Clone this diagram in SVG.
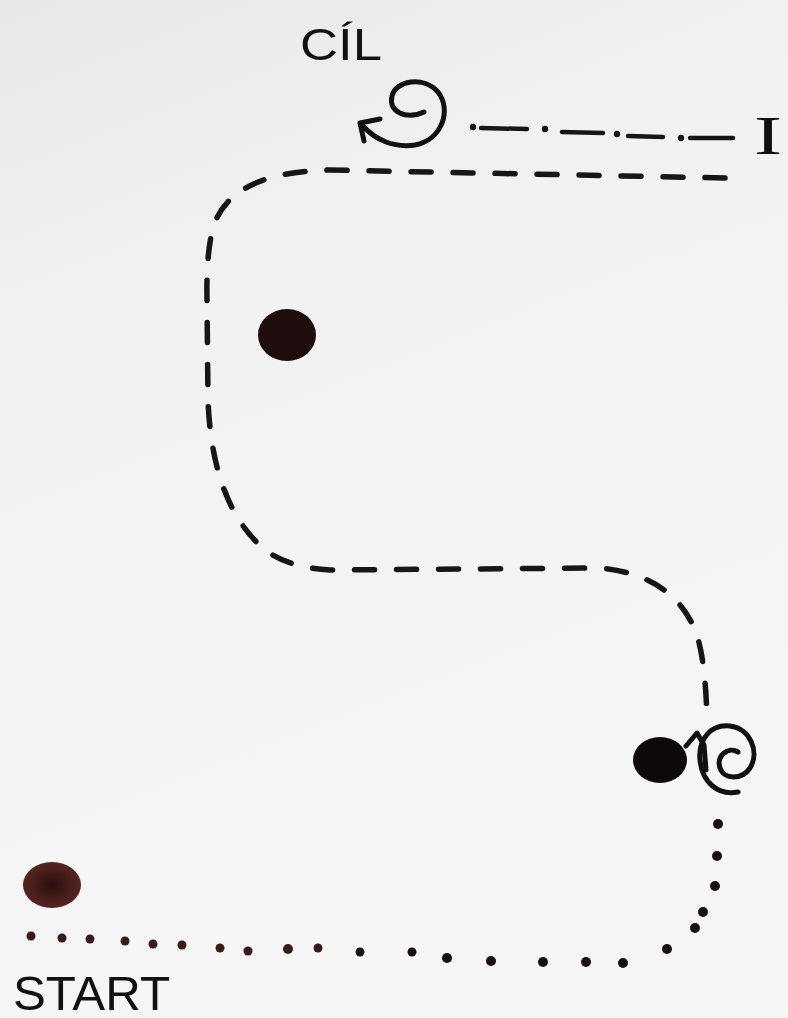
<svg xmlns="http://www.w3.org/2000/svg" width="788" height="1018" viewBox="0 0 788 1018">
<defs>
<linearGradient id="bg" x1="0" y1="0" x2="0.3" y2="1">
<stop offset="0" stop-color="#e8e8e8"/>
<stop offset="0.35" stop-color="#f2f2f2"/>
<stop offset="1" stop-color="#f6f6f6"/>
</linearGradient>
<radialGradient id="brown" cx="0.5" cy="0.5" r="0.6">
<stop offset="0" stop-color="#2a0e0e"/>
<stop offset="0.6" stop-color="#4a1f1c"/>
<stop offset="1" stop-color="#5a2a26"/>
</radialGradient>
<style>
.ink{fill:none;stroke:#111;stroke-width:5;stroke-linecap:round;stroke-linejoin:round}
.dash{fill:none;stroke:#161616;stroke-width:5.5;stroke-linecap:round;stroke-dasharray:20 22}
.dashdot{fill:none;stroke:#161616;stroke-width:4.5;stroke-linecap:round}
.dot{fill:#1a1010}
.bdot{fill:#3a1a18}
.hand{font-family:"Liberation Sans","DejaVu Sans",sans-serif;fill:#111}
</style>
</defs>
<rect width="788" height="1018" fill="url(#bg)"/>

<g id="connectors">
<path id="dashed-route" class="dash" d="M 725 178 L 330 170 Q 232 172 214 225 Q 206 250 207 300 L 208 400 Q 212 505 265 550 Q 290 568 330 570 L 600 568 Q 675 575 697 635 Q 706 665 707 722"/>
<g id="dashdot-line">
<path class="dashdot" d="M 481 128 L 527 129 M 562 132 L 603 133 M 628 136 L 663 137 M 690 138 L 733 138"/>
<circle cx="473" cy="127" r="3.2" fill="#161616"/>
<circle cx="545" cy="129" r="3.2" fill="#161616"/>
<circle cx="617" cy="134" r="3.2" fill="#161616"/>
<circle cx="681" cy="138" r="3.2" fill="#161616"/>
</g>
<g id="dotted-route">
<circle class="dot" cx="718" cy="824" r="5"/>
<circle class="dot" cx="717" cy="856" r="5"/>
<circle class="dot" cx="715" cy="886" r="5"/>
<circle class="dot" cx="703" cy="912" r="5"/>
<circle class="dot" cx="695" cy="928" r="5"/>
<circle class="dot" cx="667" cy="949" r="5"/>
<circle class="dot" cx="623" cy="963" r="5"/>
<circle class="dot" cx="586" cy="962" r="5"/>
<circle class="dot" cx="543" cy="962" r="5"/>
<circle class="dot" cx="491" cy="961" r="5"/>
<circle class="dot" cx="447" cy="958" r="5"/>
<circle class="dot" cx="412" cy="952" r="4.5"/>
<circle class="dot" cx="360" cy="952" r="4.5"/>
<circle class="bdot" cx="318" cy="948" r="4.5"/>
<circle class="bdot" cx="288" cy="949" r="5"/>
<circle class="bdot" cx="248" cy="951" r="4.5"/>
<circle class="bdot" cx="220" cy="948" r="4.5"/>
<circle class="bdot" cx="182" cy="945" r="4.5"/>
<circle class="bdot" cx="153" cy="944" r="4.5"/>
<circle class="bdot" cx="125" cy="941" r="4.5"/>
<circle class="bdot" cx="90" cy="939" r="4.5"/>
<circle class="bdot" cx="62" cy="938" r="4.5"/>
<circle class="bdot" cx="31" cy="936" r="4.5"/>
</g>
</g>

<g id="goal-label">
<text class="hand" x="300" y="60" font-size="44" textLength="82" lengthAdjust="spacingAndGlyphs">CÍL</text>
</g>

<g id="goal-spiral">
<path class="ink" d="M 424 112 C 406 120 388 112 392 96 C 396 80 424 76 438 92 C 452 110 442 140 415 145 C 394 148 375 140 362 125"/>
<path class="ink" d="M 380 119 L 360 123 L 364 141"/>
</g>

<g id="i-marker">
<text x="754" y="154" font-family="Liberation Serif, serif" font-size="54" fill="#111" textLength="28" lengthAdjust="spacingAndGlyphs">I</text>
</g>

<g id="checkpoint-1">
<ellipse cx="287" cy="335" rx="29" ry="26" fill="#1f0d0d"/>
</g>

<g id="checkpoint-2">
<ellipse cx="660" cy="760" rx="27" ry="23" fill="#0e0808"/>
<path class="ink" d="M 706 770 L 704 745 L 697 733 L 686 746"/>
<path class="ink" d="M 738 752 C 728 746 716 756 720 768 C 724 780 742 780 750 768 C 760 752 750 728 730 726 C 710 724 698 740 700 760 C 702 782 718 796 738 792"/>
</g>

<g id="start-dot">
<ellipse cx="52" cy="885" rx="29" ry="23" fill="url(#brown)"/>
</g>

<g id="start-label">
<text class="hand" x="13" y="1010" font-size="48" textLength="157" lengthAdjust="spacingAndGlyphs">START</text>
</g>
</svg>
